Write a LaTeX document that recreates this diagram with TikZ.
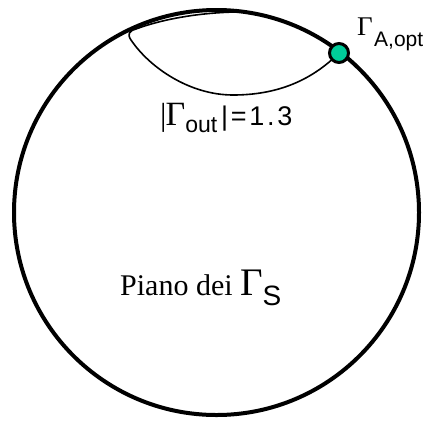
\documentclass[tikz,border=0pt]{standalone}
\usepackage{fontspec}
\setmainfont{Liberation Serif}
\newfontfamily\arialf{Liberation Sans}
\newfontfamily\arialsp[LetterSpace=10]{Liberation Sans}
\definecolor{dotgreen}{RGB}{0,204,153}
\begin{document}
\begin{tikzpicture}[x=1pt,y=-1pt,
  rim/.style={line width=4pt},
  loopline/.style={line width=1.6pt},
  lbl/.style={inner sep=0pt,anchor=base west}]
\useasboundingbox (0,0) rectangle (427,421);
% Smith chart rim
\node[draw,rim,circle,minimum size=405pt,inner sep=0pt] (rim) at (216.5,212.5) {};
% constant |Gamma_out| circle portion
\coordinate (tip) at (129,34);
\coordinate (low) at (233,95);
\coordinate (opt) at (339,53);
\draw[loopline] (opt) .. controls (310,82) and (275,95) .. (low)
  .. controls (190,95) and (150,68) .. (131,40)
  .. controls (127,34) and (129,31) .. (136,29)
  .. controls (160,20) and (195,13) .. (235,12);
% optimum point
\node[circle,draw,line width=3pt,fill=dotgreen,minimum size=19pt,inner sep=0pt] (dot) at (opt) {};
% labels
\node[lbl] (gopt) at (357,35) {\fontsize{27pt}{27pt}\selectfont Γ};
\node[lbl] (gopts) at (374,46) {\arialf\fontsize{21pt}{21pt}\selectfont A,opt};
\node[lbl] (gout) at (160,125) {\fontsize{32pt}{32pt}\selectfont |\hspace{-1pt}\fontsize{34pt}{34pt}\selectfont Γ\arialf\fontsize{23pt}{23pt}\selectfont\raisebox{-7pt}{out}\hspace{4pt}\arialsp\fontsize{27pt}{27pt}\selectfont|=1.3};
\node[lbl] (piano) at (120,295) {\fontsize{30pt}{30pt}\selectfont Piano dei \fontsize{39pt}{39pt}\selectfont Γ\arialf\fontsize{28pt}{28pt}\selectfont\raisebox{-10pt}{S}};
\end{tikzpicture}
\end{document}
